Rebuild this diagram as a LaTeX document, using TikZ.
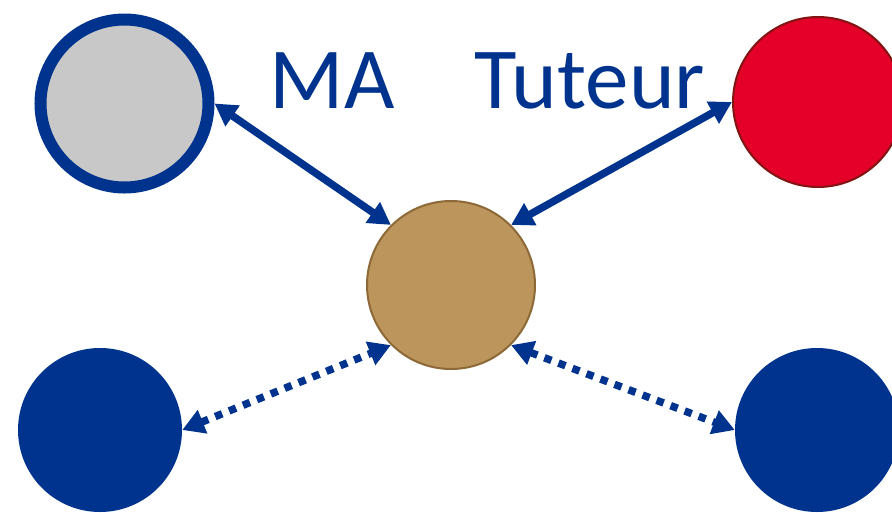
\documentclass[tikz,border=0pt]{standalone}
\usepackage{fontspec}
\setmainfont{Carlito}
\usetikzlibrary{arrows.meta}
\definecolor{navy}{RGB}{0,51,141}
\definecolor{tan}{RGB}{188,149,92}
\definecolor{tanborder}{RGB}{140,105,55}
\definecolor{redfill}{RGB}{228,0,40}
\definecolor{redborder}{RGB}{130,20,20}
\definecolor{grayfill}{RGB}{200,200,200}
\tikzset{
  ball/.style={circle, inner sep=0pt},
  link/.style={navy, line width=7.5pt, {Triangle[length=22pt,width=24pt]}-{Triangle[length=22pt,width=24pt]}},
  dotlink/.style={link, dash pattern=on 7.5pt off 7.5pt},
  lbl/.style={navy, font=\fontsize{87}{90}\selectfont, anchor=base, inner sep=0pt}
}
\begin{document}
\begin{tikzpicture}[x=1pt,y=-1pt]
\useasboundingbox (0,0) rectangle (892,512);
\node[ball, fill=grayfill, draw=navy, line width=12pt, minimum size=168pt] (ma) at (124.5,103.5) {};
\node[ball, fill=redfill, draw=redborder, line width=2pt, minimum size=170pt] (tut) at (818,102) {};
\node[ball, fill=tan, draw=tanborder, line width=2pt, minimum size=168pt] (c) at (451,285) {};
\node[ball, fill=navy, minimum size=164pt] (bl) at (100,430) {};
\node[ball, fill=navy, minimum size=164pt] (br) at (817,430) {};
\node[lbl] (tma) at (332,108) {MA};
\node[lbl] (ttut) at (590,108) {Tuteur};
\draw[link] (ma.east) -- (c.north west);
\draw[link] (tut.west) -- (c.north east);
\draw[dotlink] (bl.east) -- (c.south west);
\draw[dotlink] (c.south east) -- (br.west);
\end{tikzpicture}
\end{document}
